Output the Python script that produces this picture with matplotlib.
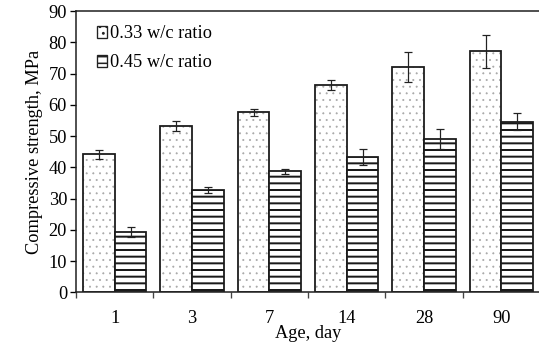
import matplotlib
matplotlib.use("Agg")
import matplotlib.pyplot as plt
from matplotlib.patches import Patch
import numpy as np

ages = ["1", "3", "7", "14", "28", "90"]
wc033 = [44.2, 53.2, 57.6, 66.4, 72.0, 77.2]
wc033_err = [1.4, 1.6, 1.2, 1.7, 4.8, 5.3]
wc045 = [19.3, 32.7, 38.8, 43.3, 49.1, 54.6]
wc045_err = [1.5, 1.0, 0.8, 2.7, 3.1, 2.8]
series_names = ["0.33 w/c ratio", "0.45 w/c ratio"]

plt.rcParams['font.family'] = ['Liberation Serif', 'DejaVu Serif']
FS = 16.5

DPI = 80
fig = plt.figure(figsize=(539 / DPI, 348 / DPI), dpi=DPI)
ax = fig.add_axes([0.141, 0.160, 0.861, 0.808])

x = np.arange(len(ages))
w = 0.41

# dotted bars: light grey dots, then black outline on top
plt.rcParams['hatch.linewidth'] = 0.6
ax.bar(x - w / 2, wc033, w, color='white', edgecolor='#a8a8a8', hatch='..', linewidth=0)
ax.bar(x - w / 2, wc033, w, fill=False, edgecolor='#1a1a1a', linewidth=1.6)
plt.rcParams['hatch.linewidth'] = 1.8
ax.bar(x + w / 2, wc045, w, color='white', edgecolor='#1a1a1a', hatch='--', linewidth=1.6)

ax.errorbar(x - w / 2, wc033, yerr=wc033_err, fmt='none', ecolor='#222222',
            elinewidth=1.1, capsize=4, capthick=1.1)
ax.errorbar(x + w / 2, wc045, yerr=wc045_err, fmt='none', ecolor='#222222',
            elinewidth=1.1, capsize=4, capthick=1.1)

ax.set_xlim(-0.5, len(ages) - 0.5)
ax.set_ylim(0, 90)
ax.set_yticks(range(0, 91, 10))
ax.set_xticks(np.arange(-0.5, len(ages), 1.0))
ax.set_xticklabels([])
ax.set_xticks(x, minor=True)
ax.set_xticklabels(ages, minor=True)
ax.tick_params(axis='x', which='minor', length=0, pad=16, labelsize=FS)
ax.tick_params(axis='x', which='major', length=5, width=1.2, direction='out', color='#444444')
ax.tick_params(axis='y', length=5, width=1.2, labelsize=FS, pad=3)

for s in ['left', 'bottom', 'top']:
    ax.spines[s].set_linewidth(1.4)
    ax.spines[s].set_color('#222222')
ax.spines['right'].set_visible(False)

ax.set_ylabel("Compressive strength, MPa", fontsize=FS, labelpad=5)
ax.set_xlabel("Age, day", fontsize=FS)
ax.xaxis.set_label_coords(0.5, -0.115)

plt.rcParams['hatch.linewidth'] = 0.8
h1 = Patch(facecolor='white', edgecolor='#222222', hatch='..', linewidth=1.2)
plt.rcParams['hatch.linewidth'] = 1.4
h2 = Patch(facecolor='white', edgecolor='#222222', hatch='--', linewidth=1.2)
ax.legend([h1, h2], series_names, loc='upper left', frameon=False, fontsize=FS,
          handlelength=0.55, handleheight=0.6, handletextpad=0.15,
          labelspacing=0.65, bbox_to_anchor=(0.03, 0.975), borderaxespad=0)

fig.savefig("out.png", dpi=DPI)
